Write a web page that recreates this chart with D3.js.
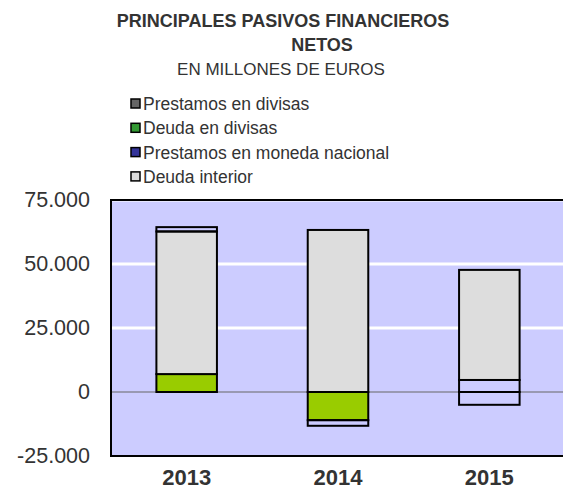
<!DOCTYPE html>
<html><head><meta charset="utf-8">
<script src="https://cdn.jsdelivr.net/npm/d3@7"></script>
<style>
html,body{margin:0;padding:0;background:#fff;}
svg{display:block;font-family:"Liberation Sans",Arial,sans-serif;}
</style></head>
<body><svg id="chart" width="563" height="495"></svg>
<script>
const years = ["2013", "2014", "2015"];
const seriesNames = ["Deuda en divisas", "Prestamos en divisas", "Deuda interior", "Prestamos en moneda nacional"];
const deudaDivisas = [7000, -11000, 0];
const prestamosDivisas = [0, -2200, 4700];
const deudaInterior = [55700, 63300, 43000];
const prestamosNacional = [1700, 0, -5000];
const yTicks = [-25000, 0, 25000, 50000, 75000];
const legendNames = ["Prestamos en divisas", "Deuda en divisas", "Prestamos en moneda nacional", "Deuda interior"];
const legendColors = ["#666666", "#339933", "#333399", "#dddddd"];
const barFills = {"Deuda en divisas": "#99cc00", "Prestamos en divisas": "none", "Deuda interior": "#dddddd", "Prestamos en moneda nacional": "none"};

const svg = d3.select("#chart");
const m = {left: 111, top: 200, right: 565, bottom: 456};
const x = d3.scaleBand().domain(years).range([m.left, m.right]).paddingInner(0.6).paddingOuter(0.3);
const y = d3.scaleLinear().domain([-25000, 75000]).range([m.bottom, m.top]);

// title
svg.append("text").attr("x", 283).attr("y", 27).attr("text-anchor", "middle")
  .attr("font-weight", "bold").attr("font-size", 18).attr("fill", "#333").text("PRINCIPALES PASIVOS FINANCIEROS");
svg.append("text").attr("x", 322).attr("y", 51).attr("text-anchor", "middle")
  .attr("font-weight", "bold").attr("font-size", 18).attr("fill", "#333").text("NETOS");
svg.append("text").attr("x", 281).attr("y", 75).attr("text-anchor", "middle")
  .attr("font-size", 17).attr("fill", "#333").text("EN MILLONES DE EUROS");

// legend
const lg = svg.append("g");
legendNames.forEach((n, i) => {
  const cy = 104 + i * 24.3;
  lg.append("rect").attr("x", 131).attr("y", cy - 5).attr("width", 9).attr("height", 9)
    .attr("fill", legendColors[i]).attr("stroke", "#000").attr("stroke-width", 1.5);
  lg.append("text").attr("x", 143).attr("y", cy).attr("dy", "0.35em")
    .attr("font-size", 17.5).attr("fill", "#333").text(n);
});

// plot background
svg.append("rect").attr("x", m.left).attr("y", m.top).attr("width", m.right - m.left).attr("height", m.bottom - m.top)
  .attr("fill", "#ccccff");
// gridlines
svg.append("g").selectAll("line").data([25000, 50000, 75000]).join("line")
  .attr("x1", m.left).attr("x2", m.right).attr("y1", d => y(d)).attr("y2", d => y(d))
  .attr("stroke", "#fff").attr("stroke-width", 3);
svg.append("line").attr("x1", m.left).attr("x2", m.right).attr("y1", y(0)).attr("y2", y(0))
  .attr("stroke", "#666").attr("stroke-width", 1.2);

// bars
const data = years.map((yr, i) => ({
  year: yr,
  "Deuda en divisas": deudaDivisas[i],
  "Prestamos en divisas": prestamosDivisas[i],
  "Deuda interior": deudaInterior[i],
  "Prestamos en moneda nacional": prestamosNacional[i]
}));
const stacked = d3.stack().keys(seriesNames).offset(d3.stackOffsetDiverging)(data);
const gb = svg.append("g");
stacked.forEach(s => {
  gb.selectAll(null).data(s.filter(d => d[1] - d[0] !== 0)).join("rect")
    .attr("x", d => x(d.data.year)).attr("width", x.bandwidth())
    .attr("y", d => y(Math.max(d[0], d[1]))).attr("height", d => Math.abs(y(d[0]) - y(d[1])))
    .attr("fill", barFills[s.key]).attr("stroke", "#000").attr("stroke-width", 2);
});

// border
svg.append("path").attr("d", `M${m.right + 2},${m.top}H${m.left}V${m.bottom}H${m.right + 2}`)
  .attr("fill", "none").attr("stroke", "#000").attr("stroke-width", 2);

// y axis labels
const ya = svg.append("g").attr("transform", `translate(${m.left},0)`)
  .call(d3.axisLeft(y).tickValues(yTicks).tickSize(0).tickPadding(21)
    .tickFormat(d => d3.format(",")(d).replace(/,/g, ".").replace("−", "-")));
ya.select(".domain").remove();
ya.selectAll("text").attr("font-size", 21.5).attr("fill", "#333").attr("font-family", "Liberation Sans, Arial, sans-serif");

// x axis labels
const xa = svg.append("g").attr("transform", `translate(0,${m.bottom})`)
  .call(d3.axisBottom(x).tickSize(0).tickPadding(13));
xa.select(".domain").remove();
xa.selectAll("text").attr("font-size", 22).attr("font-weight", "bold").attr("fill", "#333")
  .attr("font-family", "Liberation Sans, Arial, sans-serif");
</script></body></html>
